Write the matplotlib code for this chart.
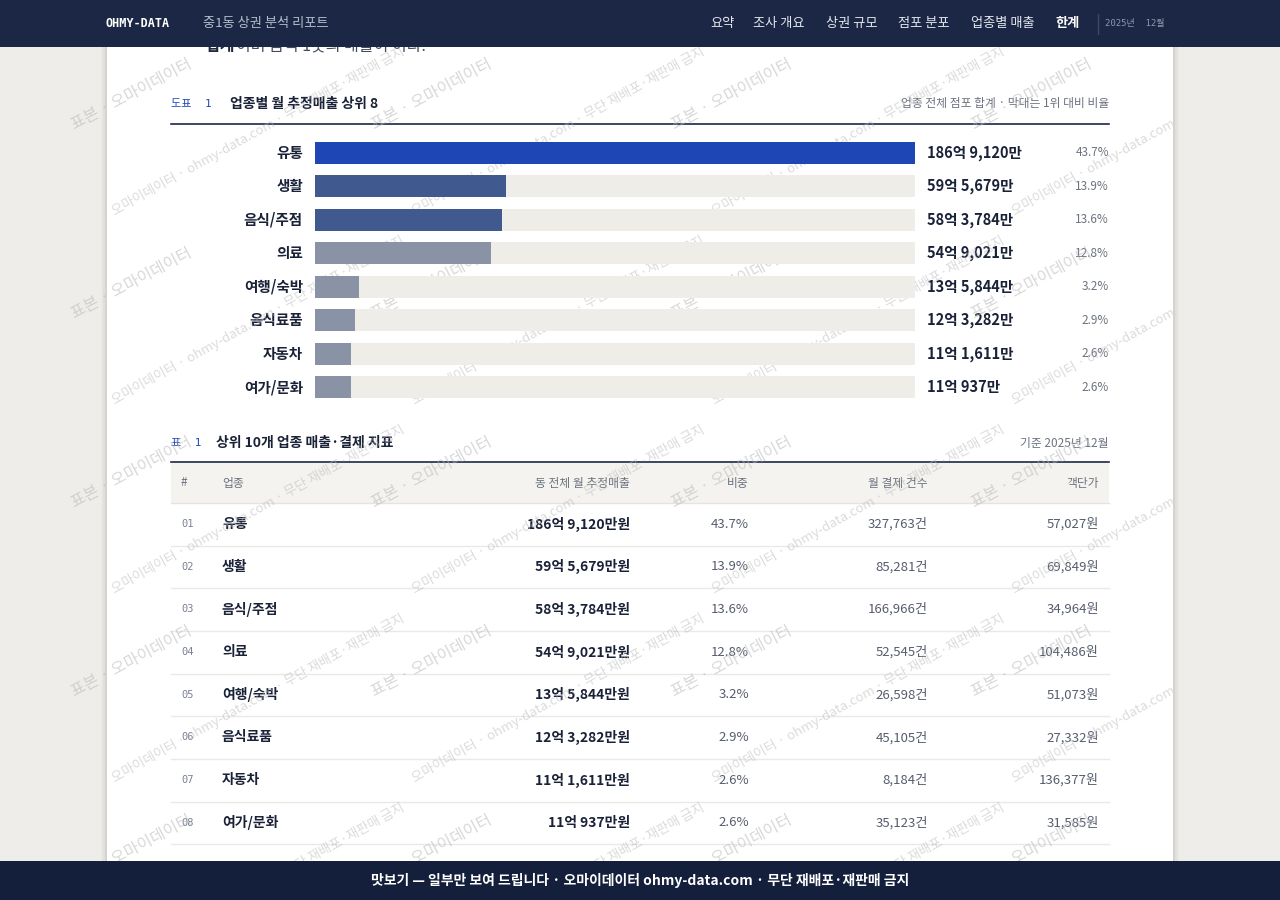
import matplotlib
matplotlib.use("Agg")
import matplotlib.pyplot as plt
from matplotlib.patches import Rectangle

plt.rcParams['font.family'] = ['Noto Sans CJK KR', 'DejaVu Sans']
MONO = ['DejaVu Sans Mono', 'Noto Sans CJK KR']

# data
categories = ['유통', '생활', '음식/주점', '의료', '여행/숙박', '음식료품', '자동차', '여가/문화']
revenue_man = [1869120, 595679, 583784, 549021, 135844, 123282, 111611, 110937]  # 만원
share_pct = [43.7, 13.9, 13.6, 12.8, 3.2, 2.9, 2.6, 2.6]
pay_count = [327763, 85281, 166966, 52545, 26598, 45105, 8184, 35123]
unit_price = [57027, 69849, 34964, 104486, 51073, 27332, 136377, 31585]
nav_items = ['요약', '조사 개요', '상권 규모', '점포 분포', '업종별 매출', '한계']
nav_x = [710, 753, 826, 898, 971, 1055]


def fmt_won(v):
    eok, man = divmod(v, 10000)
    return f'{eok}억 {man:,}만'


NAVY = '#1b2744'
INK = '#1a2238'
GREY = '#6b7280'
BLUE = '#2448b8'

fig = plt.figure(figsize=(12.8, 9), dpi=100)
fig.patch.set_facecolor('#eeede9')
ax = fig.add_axes([0, 0, 1, 1])
ax.set_xlim(0, 1280)
ax.set_ylim(900, 0)
ax.axis('off')

# page card + soft shadow
for i, a in enumerate([0.05, 0.035, 0.02]):
    ax.add_patch(Rectangle((107 - 2 * (i + 1), 0), 1066 + 4 * (i + 1), 900, color='#000000', alpha=a, lw=0, zorder=0))
card = Rectangle((107, 0), 1066, 900, color='white', lw=0, zorder=0.5)
ax.add_patch(card)

# paragraph cut by the header
ax.text(205, 46, '합계', fontsize=11.5, fontweight='bold', color='#222a3a', va='center', zorder=1)
ax.text(236, 46, '이며 음식 1곳의 매출이 이다.', fontsize=11.5, color='#444b5a', va='center', zorder=1)

# ---- chart heading
ax.text(171, 104, '도표  1', family=MONO, fontsize=8, color=BLUE, va='center', zorder=2)
ax.text(230, 104, '업종별 월 추정매출 상위 8', fontsize=10, fontweight='bold', color=INK, va='center', zorder=2)
ax.text(1109, 104, '업종 전체 점포 합계 · 막대는 1위 대비 비율', fontsize=8.5, color=GREY, va='center', ha='right', zorder=2)
ax.plot([171, 1109], [124, 124], color=NAVY, lw=1.2, zorder=2)

# bar chart in its own axes, aligned to the track
row_h = 33.43
top = 153 - row_h / 2
bottom = top + row_h * len(categories)
bax = fig.add_axes([315 / 1280, 1 - bottom / 900, 600 / 1280, (bottom - top) / 900])
bax.set_xlim(0, max(revenue_man))
bax.set_ylim(len(categories) - 0.5, -0.5)
bax.axis('off')
ypos = list(range(len(categories)))
bar_colors = ['#1e46b4', '#40598f', '#40598f'] + ['#8a93a6'] * 5
bax.barh(ypos, [max(revenue_man)] * len(categories), height=22 / row_h, color='#eeede8', lw=0)
bax.barh(ypos, revenue_man, height=22 / row_h, color=bar_colors, lw=0)

for i, cat in enumerate(categories):
    y = 153 + row_h * i
    ax.text(303, y, cat, fontsize=10.5, color=INK, ha='right', va='center', fontweight='bold', zorder=2)
    ax.text(927, y, fmt_won(revenue_man[i]), fontsize=10.5, fontweight='bold', color=INK, va='center', zorder=2)
    ax.text(1109, y, f'{share_pct[i]}%', fontsize=8.5, color=GREY, ha='right', va='center', zorder=2)

# ---- table
ax.text(171, 443, '표  1', family=MONO, fontsize=8, color=BLUE, va='center', zorder=2)
ax.text(216, 443, '상위 10개 업종 매출·결제 지표', fontsize=10, fontweight='bold', color=INK, va='center', zorder=2)
ax.text(1109, 443, '기준 2025년 12월', fontsize=8.5, color=GREY, ha='right', va='center', zorder=2)
ax.plot([171, 1109], [462, 462], color=NAVY, lw=1.2, zorder=2)
ax.add_patch(Rectangle((171, 463), 938, 40, color='#f4f3ef', lw=0, zorder=1))

hdr_y = 483
ax.text(181, hdr_y, '#', fontsize=8.5, color=GREY, va='center', zorder=2)
ax.text(222, hdr_y, '업종', fontsize=8.5, color=GREY, va='center', zorder=2)
ax.text(630, hdr_y, '동 전체 월 추정매출', fontsize=8.5, color=GREY, va='center', ha='right', zorder=2)
ax.text(749, hdr_y, '비중', fontsize=8.5, color=GREY, va='center', ha='right', zorder=2)
ax.text(928, hdr_y, '월 결제 건수', fontsize=8.5, color=GREY, va='center', ha='right', zorder=2)
ax.text(1099, hdr_y, '객단가', fontsize=8.5, color=GREY, va='center', ha='right', zorder=2)
ax.plot([171, 1109], [503, 503], color='#e6e4de', lw=1, zorder=2)

tr_h = 42.7
for i, cat in enumerate(categories):
    y = 524 + tr_h * i
    ax.text(181, y, f'{i + 1:02d}', family=MONO, fontsize=7.5, color='#7a8194', va='center', zorder=2)
    ax.text(222, y, cat, fontsize=10, fontweight='bold', color=INK, va='center', zorder=2)
    ax.text(630, y, fmt_won(revenue_man[i]) + '원', fontsize=10, fontweight='bold', color=INK, va='center', ha='right', zorder=2)
    ax.text(749, y, f'{share_pct[i]}%', fontsize=9.5, color='#555c6c', va='center', ha='right', zorder=2)
    ax.text(928, y, f'{pay_count[i]:,}건', fontsize=9.5, color='#555c6c', va='center', ha='right', zorder=2)
    ax.text(1099, y, f'{unit_price[i]:,}원', fontsize=9.5, color='#555c6c', va='center', ha='right', zorder=2)
    ax.plot([171, 1109], [y + 21.5, y + 21.5], color='#ebe9e3', lw=1, zorder=2)

# ---- watermark tiles
WM = '#b8b8b8'
for i in range(0, 4):
    for j in range(0, 5):
        x0 = 75 + 300 * i
        y0 = 130 + 189 * j
        ax.text(x0, y0, '표본 · 오마이데이터', fontsize=11.5, color=WM, alpha=0.55,
                rotation=28, rotation_mode='anchor', ha='left', va='baseline', zorder=5)
for i in range(-1, 4):
    for j in range(0, 5):
        x0 = 115 + 300 * i
        y0 = 215 + 189 * j
        t = ax.text(x0, y0, '오마이데이터 · ohmy-data.com · 무단 재배포·재판매 금지', fontsize=9.5,
                    color=WM, alpha=0.5, rotation=29, rotation_mode='anchor', ha='left', va='baseline',
                    zorder=5, clip_on=True)
        t.set_clip_path(card)

# ---- header bar
ax.add_patch(Rectangle((0, 0), 1280, 47, color=NAVY, lw=0, zorder=10))
ax.text(105, 23.5, 'OHMY-DATA', family=MONO, fontsize=8.5, fontweight='bold', color='white', va='center', zorder=11)
ax.text(203, 23.5, '중1동 상권 분석 리포트', fontsize=9.5, color='#b4bccb', va='center', zorder=11)
for label, x in zip(nav_items, nav_x):
    last = label == nav_items[-1]
    ax.text(x, 23.5, label, fontsize=9.5, color='white' if last else '#e2e6ee',
            fontweight='bold' if last else 'normal', va='center', zorder=11)
ax.plot([1098, 1098], [14, 34], color='#3d4866', lw=1, zorder=11)
ax.text(1105, 23.5, '2025년  12월', family=MONO, fontsize=6.5, color='#8e97ab', va='center', zorder=11)

# ---- footer bar
ax.add_patch(Rectangle((0, 861), 1280, 39, color='#141f3c', lw=0, zorder=10))
ax.text(640, 880, '맛보기 — 일부만 보여 드립니다 · 오마이데이터 ohmy-data.com · 무단 재배포·재판매 금지',
        fontsize=10, fontweight='bold', color='white', ha='center', va='center', zorder=11)

fig.savefig('out.png', dpi=100, facecolor=fig.get_facecolor())
